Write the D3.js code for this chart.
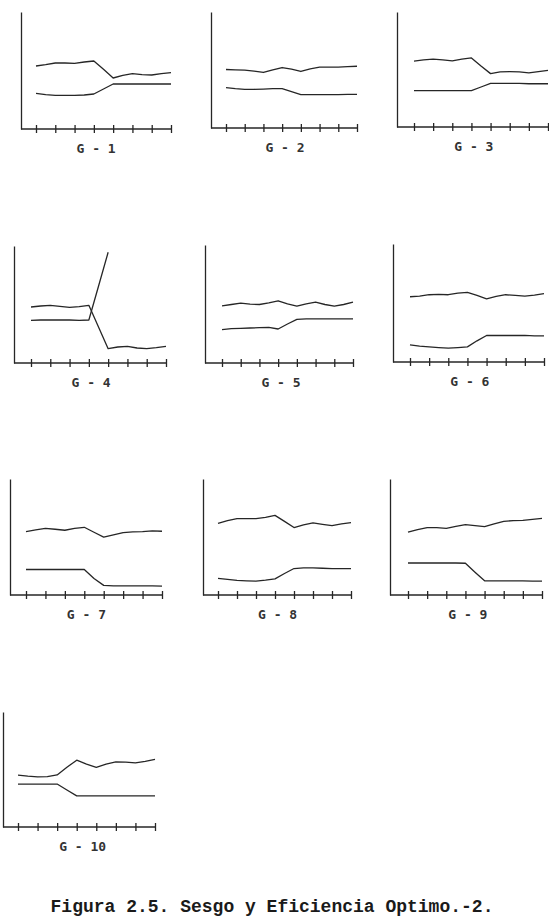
<!DOCTYPE html>
<html>
<head>
<meta charset="utf-8">
<script src="https://cdn.jsdelivr.net/npm/d3@7"></script>
<style>
  body { margin: 0; background: white; }
</style>
</head>
<body>
<div id="container"></div>
<script>
// x positions of the readings (8 ticks, readings at ticks and half way between)
let xPoints = [1, 1.5, 2, 2.5, 3, 3.5, 4, 4.5, 5, 5.5, 6, 6.5, 7, 7.5, 8];
let tickValues = [1, 2, 3, 4, 5, 6, 7, 8];
let panelLabels = ["G - 1", "G - 2", "G - 3", "G - 4", "G - 5", "G - 6", "G - 7", "G - 8", "G - 9", "G - 10"];
let captionText = "Figura 2.5. Sesgo y Eficiencia Optimo.-2.";

// values (axis height = 117 units)
let g1Upper = [63, 64.3, 66, 66, 65.7, 67, 68, 59.7, 51, 53.7, 55.3, 54.3, 54, 55.3, 56.3];
let g1Lower = [35.7, 34.3, 33.7, 33.7, 33.7, 34, 35, 40, 45, 45, 45, 45, 45, 45, 45];
let g2Upper = [59, 58.7, 58.3, 57.3, 56, 58.7, 61, 59.3, 57, 59.7, 61.3, 61.3, 61.3, 62, 62.3];
let g2Lower = [40.7, 39.7, 39, 39, 39.3, 39.7, 39.7, 36.7, 33.7, 33.7, 33.7, 33.7, 33.7, 34, 34];
let g3Upper = [67, 68.3, 69, 68.3, 67.3, 69, 70.3, 62, 54.3, 56, 56.3, 56, 55, 56.3, 57.7];
let g3Lower = [37, 37, 37, 37, 37, 37, 37, 40.7, 44.3, 44.3, 44.3, 44.3, 44, 44, 44];
let g4Upper = [56, 57, 57.7, 56.7, 55.7, 56.3, 57.7, 36, 14.3, 16, 16.7, 15, 14.3, 15.3, 16.7];
let g4Lower = [42.7, 43, 43, 43, 43, 42.7, 43, 76.8, 110.7, null, null, null, null, null, null];
let g5Upper = [56.7, 58, 59.3, 58.3, 58, 59.7, 61.7, 58.7, 56.3, 58.7, 60.3, 58, 56.3, 58, 60.3];
let g5Lower = [33, 34, 34.3, 34.7, 35, 35.3, 33.7, 38.7, 43.3, 43.7, 43.7, 43.7, 43.7, 43.7, 43.7];
let g6Upper = [64.7, 65.3, 66.7, 67, 66.7, 68.3, 69, 66, 62.7, 65, 66.7, 66, 65.3, 66.3, 67.7];
let g6Lower = [17, 15.7, 15, 14.3, 13.7, 14.3, 15, 21, 26.3, 26.3, 26.3, 26.3, 26.3, 26, 26];
let g7Upper = [64, 65.7, 67.3, 66.3, 65.3, 67.3, 68.3, 63.3, 58.3, 60.7, 63, 63.7, 64, 64.7, 64.3];
let g7Lower = [25.7, 25.7, 25.7, 25.7, 25.7, 25.7, 25.7, 16.7, 9.7, 9.3, 9.3, 9.3, 9.3, 9.3, 9];
let g8Upper = [72.3, 75, 77, 77, 77, 78.3, 80.3, 74.3, 68, 70.7, 72.7, 71.3, 70, 71.7, 73];
let g8Lower = [16.7, 15.7, 14.7, 14.3, 14, 15, 16.3, 21.7, 26.7, 27.3, 27.3, 27, 26.7, 26.7, 26.7];
let g9Upper = [63.3, 66, 68, 68, 67.3, 69.3, 71, 70, 69, 71.7, 74.3, 75, 75.3, 76.3, 77.3];
let g9Lower = [32.3, 32.3, 32.3, 32.3, 32.3, 32.3, 32, 23, 14.3, 14.3, 14.3, 14.3, 14.3, 14, 14];
let g10Upper = [52.7, 51.7, 51, 51.3, 53, 60.7, 68, 64, 60.7, 64, 66.3, 66, 65.3, 66.7, 68.7];
let g10Lower = [43.7, 43.7, 43.7, 43.7, 43.7, 37.7, 31.7, 31.7, 31.7, 31.7, 31.7, 31.7, 31.7, 31.7, 31.7];

let panelSeries = [
  [g1Upper, g1Lower], [g2Upper, g2Lower], [g3Upper, g3Lower],
  [g4Upper, g4Lower], [g5Upper, g5Lower], [g6Upper, g6Lower],
  [g7Upper, g7Lower], [g8Upper, g8Lower], [g9Upper, g9Lower],
  [g10Upper, g10Lower]
];

// where each little chart sits on the page: y axis x, top, bottom, first and last tick x
let panelBoxes = [
  {ax: 21, top: 12, bottom: 129, x1: 36, x8: 171},
  {ax: 211, top: 12, bottom: 128, x1: 226, x8: 357},
  {ax: 397, top: 12, bottom: 127, x1: 414, x8: 548},
  {ax: 14, top: 246, bottom: 363, x1: 31, x8: 166},
  {ax: 205, top: 245, bottom: 363, x1: 222, x8: 353},
  {ax: 393, top: 244, bottom: 362, x1: 410, x8: 544},
  {ax: 10, top: 479, bottom: 595, x1: 26, x8: 162},
  {ax: 203, top: 479, bottom: 595, x1: 218, x8: 351},
  {ax: 390, top: 479, bottom: 595, x1: 408, x8: 542},
  {ax: 3, top: 712, bottom: 827, x1: 18, x8: 155}
];

let w = 549;
let h = 921;
let ink = "#262626";

let viz = d3.select("#container")
  .append("svg")
    .attr("width", w)
    .attr("height", h)
    .style("background-color", "white")
;

panelBoxes.forEach(function(box, i){
  let g = viz.append("g").attr("class", "panel");

  let xScale = d3.scaleLinear().domain([1, 8]).range([box.x1, box.x8]);
  let yScale = d3.scaleLinear().domain([0, 117]).range([box.bottom, box.top]);

  // y axis: only the line
  let yAxis = d3.axisLeft(yScale).tickValues([]).tickSizeOuter(0);
  g.append("g")
      .attr("transform", "translate(" + box.ax + ", 0)")
      .call(yAxis)
  ;

  // x axis: ticks crossing the line, line starts at the y axis
  let xAxis = d3.axisBottom(xScale).tickValues(tickValues).tickSize(4).tickFormat("");
  let xg = g.append("g")
      .attr("transform", "translate(0, " + box.bottom + ")")
      .call(xAxis)
  ;
  xg.select(".domain").remove();
  xg.selectAll(".tick line").attr("y1", -4).attr("y2", 4);
  xg.append("line")
      .attr("x1", box.ax)
      .attr("x2", xScale(8))
      .attr("y1", 0)
      .attr("y2", 0)
  ;

  g.selectAll("path.domain, line")
      .attr("stroke", ink)
      .attr("stroke-width", 1.3)
  ;

  let line = d3.line()
    .defined(function(d){ return d != null; })
    .x(function(d, j){ return xScale(xPoints[j]); })
    .y(function(d){ return yScale(d); })
  ;

  g.selectAll(".series")
    .data(panelSeries[i])
    .enter()
    .append("path")
      .attr("class", "series")
      .attr("d", line)
      .attr("fill", "none")
      .attr("stroke", ink)
      .attr("stroke-width", 1.3)
      .attr("stroke-linejoin", "round")
  ;

  g.append("text")
      .text(panelLabels[i])
      .attr("x", xScale(3) + 2)
      .attr("y", box.bottom + 24)
      .attr("font-family", "'DejaVu Sans Mono', monospace")
      .attr("font-weight", "bold")
      .attr("font-size", 13)
      .attr("fill", "#333")
  ;
});

viz.append("text")
    .text(captionText)
    .attr("x", 272)
    .attr("y", 912)
    .attr("text-anchor", "middle")
    .attr("font-family", "'Liberation Mono', 'Courier New', monospace")
    .attr("font-weight", "bold")
    .attr("font-size", 18)
    .attr("fill", "#1a1a1a")
    .attr("xml:space", "preserve")
;
</script>
</body>
</html>
